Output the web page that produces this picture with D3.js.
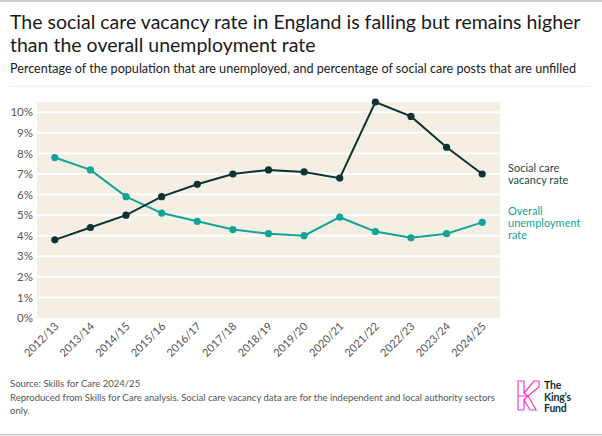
<!DOCTYPE html>
<html>
<head>
<meta charset="utf-8">
<script src="https://cdn.jsdelivr.net/npm/d3@7"></script>
<style>
  body { margin: 0; background: #fff; }
  svg { display: block; font-family: Lato, "Open Sans", sans-serif; }
</style>
</head>
<body>
<div id="chart"></div>
<script>
// data
var years = ["2012/13", "2013/14", "2014/15", "2015/16", "2016/17", "2017/18", "2018/19",
    "2019/20", "2020/21", "2021/22", "2022/23", "2023/24", "2024/25"];
var vacancyRate = [3.8, 4.4, 5.0, 5.9, 6.5, 7.0, 7.2, 7.1, 6.8, 10.5, 9.8, 8.3, 7.0];
var unemploymentRate = [7.8, 7.2, 5.9, 5.1, 4.7, 4.3, 4.1, 4.0, 4.9, 4.2, 3.9, 4.1, 4.65];
var yTicks = [0, 1, 2, 3, 4, 5, 6, 7, 8, 9, 10];

var W = 602, H = 436;
var margin = { top: 102, right: 102, bottom: 118, left: 37 };
var width = W - margin.left - margin.right;
var height = H - margin.top - margin.bottom;

var dark = "#0c3234", teal = "#13a398";

var svg = d3.select("#chart").append("svg")
    .attr("width", W)
    .attr("height", H);

// top and bottom rules
svg.append("rect").attr("x", 0).attr("y", 0).attr("width", W).attr("height", 2).attr("fill", "#c9ced1");
svg.append("rect").attr("x", 0).attr("y", H - 2).attr("width", W).attr("height", 1.5).attr("fill", "#c9ced1");
svg.append("line").attr("x1", 10).attr("x2", 590).attr("y1", 86.5).attr("y2", 86.5)
    .attr("stroke", "#f2eee4").attr("stroke-width", 1);

// titles
svg.append("text").attr("x", 10).attr("y", 29)
    .attr("font-size", "19.5px").attr("fill", "#1a1a1a")
    .text("The social care vacancy rate in England is falling but remains higher");
svg.append("text").attr("x", 10).attr("y", 52)
    .attr("font-size", "19.5px").attr("fill", "#1a1a1a")
    .text("than the overall unemployment rate");
svg.append("text").attr("x", 10).attr("y", 73)
    .attr("font-size", "12.6px").attr("fill", "#222")
    .text("Percentage of the population that are unemployed, and percentage of social care posts that are unfilled");

var g = svg.append("g")
    .attr("transform", "translate(" + margin.left + "," + margin.top + ")");

var x = d3.scalePoint()
    .domain(years)
    .range([0, width])
    .padding(0.5);

var y = d3.scaleLinear()
    .domain([0, 10.5])
    .range([height, 0]);

// background
g.append("rect")
    .attr("width", width)
    .attr("height", height)
    .attr("fill", "#f5efe3");

// gridlines
g.selectAll(".grid")
    .data(yTicks.slice(1))
    .enter()
    .append("line")
    .attr("class", "grid")
    .attr("x1", 0)
    .attr("x2", width)
    .attr("y1", function (d) { return y(d); })
    .attr("y2", function (d) { return y(d); })
    .attr("stroke", "#fff")
    .attr("stroke-width", 2);

// y axis
var yAxis = g.append("g")
    .call(d3.axisLeft(y).tickValues(yTicks).tickSize(0).tickPadding(4)
        .tickFormat(function (d) { return d + "%"; }));
yAxis.select(".domain").remove();
yAxis.selectAll("text")
    .attr("font-family", "Lato, sans-serif")
    .attr("font-size", "11.5px")
    .attr("fill", "#555");

// x axis
var xAxis = g.append("g")
    .attr("transform", "translate(0," + height + ")")
    .call(d3.axisBottom(x).tickSize(0).tickPadding(0));
xAxis.select(".domain").remove();
xAxis.selectAll("text")
    .attr("font-family", "Lato, sans-serif")
    .attr("font-size", "11px")
    .attr("fill", "#555")
    .attr("text-anchor", "end")
    .attr("dy", "0")
    .attr("y", 0)
    .attr("transform", "translate(4,9) rotate(-45)");

// lines
function drawSeries(values, colour) {
    var line = d3.line()
        .x(function (d, i) { return x(years[i]); })
        .y(function (d) { return y(d); });
    g.append("path")
        .datum(values)
        .attr("d", line)
        .attr("fill", "none")
        .attr("stroke", colour)
        .attr("stroke-width", 2);
    g.selectAll(null)
        .data(values)
        .enter()
        .append("circle")
        .attr("cx", function (d, i) { return x(years[i]); })
        .attr("cy", function (d) { return y(d); })
        .attr("r", 3.6)
        .attr("fill", colour);
}
drawSeries(unemploymentRate, teal);
drawSeries(vacancyRate, dark);

// series labels
var lab1 = svg.append("text").attr("x", 508).attr("y", 172)
    .attr("font-size", "11px").attr("fill", "#23494b");
lab1.append("tspan").attr("x", 508).text("Social care");
lab1.append("tspan").attr("x", 508).attr("dy", 12).text("vacancy rate");

var lab2 = svg.append("text").attr("x", 508).attr("y", 215)
    .attr("font-size", "11px").attr("fill", teal);
lab2.append("tspan").attr("x", 508).text("Overall");
lab2.append("tspan").attr("x", 508).attr("dy", 12).text("unemployment");
lab2.append("tspan").attr("x", 508).attr("dy", 12).text("rate");

// footer
var foot = svg.append("text").attr("x", 10).attr("y", 387)
    .attr("font-size", "10px").attr("fill", "#555");
foot.append("tspan").attr("x", 10).text("Source: Skills for Care 2024/25");
var longLine = foot.append("tspan").attr("x", 10).attr("dy", 13.5)
    .text("Reproduced from Skills for Care analysis. Social care vacancy data are for the independent and local authority sectors");
foot.append("tspan").attr("x", 10).attr("dy", 13.5).text("only.");
// shrink the footer so the long line ends before the logo
var len = longLine.node().getComputedTextLength();
if (len > 486) foot.attr("font-size", (10 * 486 / len) + "px");

// logo
var logo = svg.append("g").attr("transform", "translate(518,381)");
logo.append("path")
    .attr("d", "M0,0 H6 V12 L16,0 H21 V6 L10,15 L18,29 H12 L6,19 V29 H0 Z M0,15 H10 M6,12 L10,15 L6,19")
    .attr("fill", "none")
    .attr("stroke", "#f03cc8")
    .attr("stroke-width", 1.2);
var lt = logo.append("text").attr("x", 26).attr("y", 8)
    .attr("font-size", "10.5px").attr("font-weight", "bold").attr("fill", "#0c3234")
    .attr("letter-spacing", "-0.2");
lt.append("tspan").attr("x", 26).text("The");
lt.append("tspan").attr("x", 26).attr("dy", 11.5).text("King\u2019s");
lt.append("tspan").attr("x", 26).attr("dy", 11.5).text("Fund");
</script>
</body>
</html>
